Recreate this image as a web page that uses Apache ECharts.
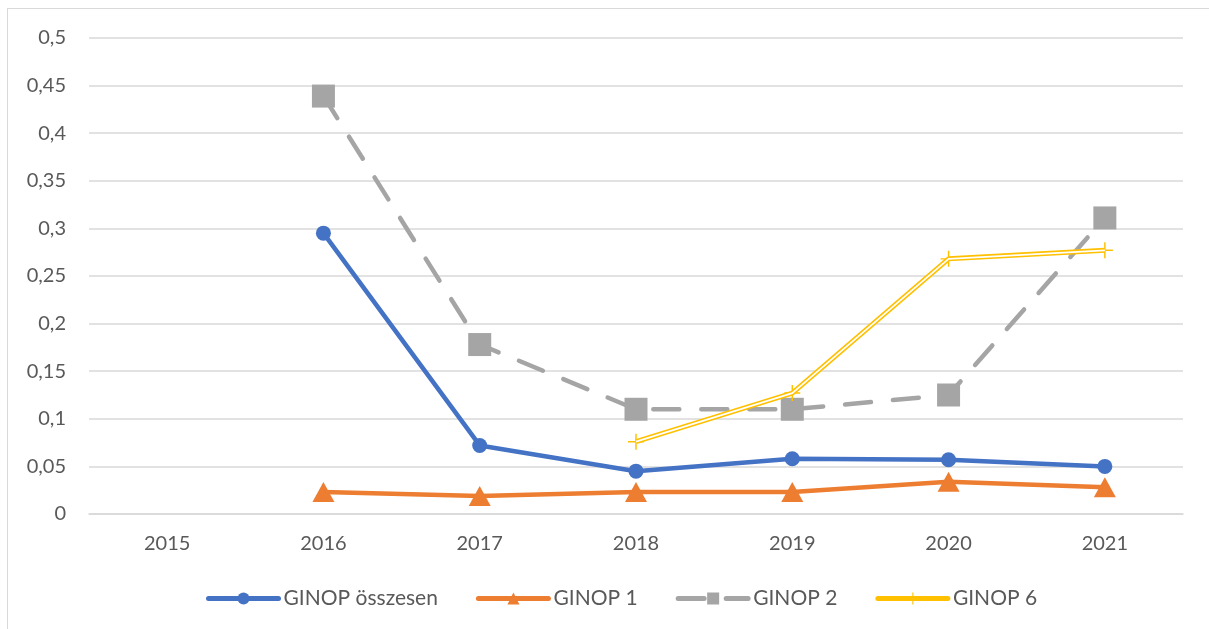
<!DOCTYPE html>
<html>
<head>
<meta charset="utf-8">
<script src="https://cdn.jsdelivr.net/npm/echarts@6/dist/echarts.min.js"></script>
<style>
  html, body { margin: 0; padding: 0; background: #fff; }
  #frame { position: absolute; left: 7px; top: 8px; width: 1220px; height: 640px; border: 1px solid #d9d9d9; box-sizing: border-box; }
  #mainChart { position: absolute; left: 0; top: 0; width: 1209px; height: 629px; }
</style>
</head>
<body>
<div id="frame"></div>
<div id="mainChart"></div>
<script>
// adatok
const years = ['2015', '2016', '2017', '2018', '2019', '2020', '2021'];
const ginopTotal = [null, 0.295, 0.072, 0.045, 0.058, 0.057, 0.050];
const ginop1 = [null, 0.023, 0.019, 0.023, 0.023, 0.034, 0.028];
const ginop2 = [null, 0.439, 0.178, 0.110, 0.110, 0.125, 0.311];
const ginop6 = [null, null, null, 0.076, 0.127, 0.268, 0.277];

const FONT = 'Lato';
const TEXT = '#595959';
const PLUS = 'path://M5 0 L6 0 L6 5 L11 5 L11 6 L6 6 L6 11 L5 11 L5 6 L0 6 L0 5 L5 5 Z';

const chart = echarts.init(document.getElementById('mainChart'));
chart.setOption({
    animation: false,
    textStyle: { fontFamily: FONT },
    grid: { left: 89, right: 26, top: 38, bottom: 115 },
    legend: {
        bottom: 15,
        left: 201,
        itemWidth: 70,
        itemHeight: 15,
        itemGap: 38,
        lineStyle: { width: 5, cap: 'round' },
        textStyle: { fontSize: 21, color: TEXT, fontFamily: FONT },
        data: ['GINOP összesen', 'GINOP 1', 'GINOP 2', 'GINOP 6']
    },
    xAxis: {
        type: 'category',
        data: years,
        boundaryGap: true,
        axisLine: { lineStyle: { color: '#d9d9d9', width: 1.5 } },
        axisTick: { show: false },
        axisLabel: { fontSize: 20, color: TEXT, margin: 20 }
    },
    yAxis: {
        type: 'value',
        min: 0, max: 0.5, interval: 0.05,
        axisLine: { show: false },
        axisTick: { show: false },
        splitLine: { lineStyle: { color: '#d9d9d9', width: 1.5 } },
        axisLabel: {
            fontSize: 20, color: TEXT, margin: 23,
            formatter: v => String(Math.round(v * 100) / 100).replace('.', ',')
        }
    },
    series: [
        {
            name: 'GINOP összesen', type: 'line', data: ginopTotal,
            color: '#4472c4', symbol: 'circle', symbolSize: 15,
            lineStyle: { width: 4.5, color: '#4472c4' }, z: 4
        },
        {
            name: 'GINOP 1', type: 'line', data: ginop1,
            color: '#ed7d31', symbol: 'triangle', symbolSize: [22, 20],
            lineStyle: { width: 4.5, color: '#ed7d31' }, z: 3
        },
        {
            name: 'GINOP 2', type: 'line', data: ginop2,
            color: '#a5a5a5', symbol: 'rect', symbolSize: 23,
            lineStyle: { width: 4.5, color: '#a5a5a5', type: [26, 22], cap: 'round' }, z: 2
        },
        {
            name: 'GINOP 6', type: 'line', data: ginop6,
            color: '#ffc000', symbol: PLUS, symbolSize: 16,
            lineStyle: { width: 5, color: '#ffc000' }, z: 5
        },
        {
            // dupla vonal belseje
            name: 'GINOP 6 inner', type: 'line', data: ginop6,
            symbol: 'none', silent: true,
            lineStyle: { width: 1.8, color: '#ffffff' }, z: 6
        }
    ]
});
</script>
</body>
</html>
